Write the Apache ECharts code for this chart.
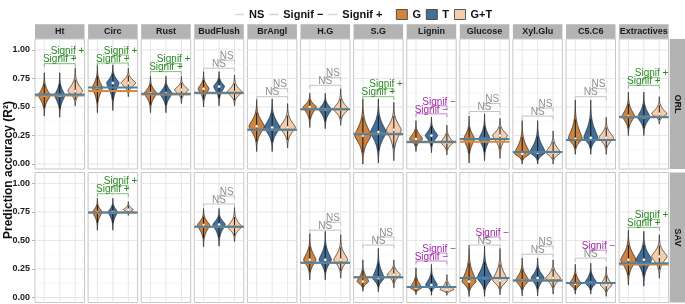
<!DOCTYPE html>
<html>
<head>
<meta charset="utf-8">
<script src="https://cdn.jsdelivr.net/npm/echarts@6/dist/echarts.min.js"></script>
<style>
  html, body { margin: 0; padding: 0; background: #fff; }
  #chart { width: 685px; height: 304px; }
</style>
</head>
<body>
<div id="chart"></div>
<script>
const traits = ['Ht', 'Circ', 'Rust', 'BudFlush', 'BrAngl', 'H.G', 'S.G', 'Lignin', 'Glucose', 'Xyl.Glu', 'C5.C6', 'Extractives'];
const sites = ['ORL', 'SAV'];
const models = ['G', 'T', 'G+T'];
const sigTypes = ['NS', 'Signif \u2212', 'Signif +'];

// each violin: [low tail, peak, high tail, width]  (G, T, G+T)
const orlViolins = [
  [[0.42, 0.60, 0.80, 0.75], [0.41, 0.60, 0.80, 0.65], [0.51, 0.64, 0.84, 0.95]],
  [[0.45, 0.67, 0.87, 0.65], [0.47, 0.71, 0.87, 0.8], [0.59, 0.71, 0.84, 0.95]],
  [[0.45, 0.62, 0.77, 0.8], [0.45, 0.62, 0.77, 0.8], [0.53, 0.65, 0.77, 0.9]],
  [[0.50, 0.66, 0.81, 0.7], [0.51, 0.68, 0.81, 0.7], [0.51, 0.63, 0.78, 0.95]],
  [[0.11, 0.33, 0.57, 1.0], [0.11, 0.32, 0.57, 1.0], [0.14, 0.32, 0.53, 1.0]],
  [[0.32, 0.50, 0.62, 0.85], [0.31, 0.48, 0.62, 0.8], [0.34, 0.48, 0.66, 0.95]],
  [[0.00, 0.25, 0.57, 1.05], [0.01, 0.28, 0.57, 1.0], [0.03, 0.30, 0.54, 0.95]],
  [[0.11, 0.22, 0.38, 0.85], [0.10, 0.25, 0.41, 0.8], [0.08, 0.19, 0.34, 0.8]],
  [[0.01, 0.22, 0.42, 0.7], [0.03, 0.22, 0.44, 0.7], [0.05, 0.25, 0.40, 0.95]],
  [[0.00, 0.09, 0.38, 1.0], [0.00, 0.10, 0.38, 1.0], [0.00, 0.10, 0.29, 0.95]],
  [[0.085, 0.22, 0.56, 0.9], [0.085, 0.23, 0.56, 0.9], [0.085, 0.23, 0.41, 0.95]],
  [[0.25, 0.42, 0.63, 0.8], [0.25, 0.41, 0.63, 0.8], [0.35, 0.44, 0.59, 1.0]]
];
const savViolins = [
  null,
  [[0.59, 0.75, 0.87, 0.6], [0.59, 0.75, 0.87, 0.6], [0.72, 0.77, 0.84, 0.65]],
  null,
  [[0.445, 0.635, 0.78, 0.8], [0.45, 0.64, 0.78, 0.8], [0.49, 0.62, 0.79, 0.9]],
  null,
  [[0.155, 0.33, 0.56, 0.8], [0.155, 0.33, 0.58, 0.8], [0.17, 0.33, 0.55, 0.9]],
  [[0.055, 0.14, 0.33, 0.75], [0.05, 0.17, 0.43, 0.75], [0.085, 0.20, 0.33, 0.85]],
  [[0.026, 0.085, 0.26, 0.75], [0.02, 0.11, 0.29, 0.75], [0.02, 0.07, 0.20, 0.9]],
  [[0.01, 0.14, 0.46, 0.9], [0.01, 0.17, 0.45, 0.95], [0.025, 0.15, 0.43, 0.95]],
  [[0.015, 0.15, 0.345, 0.85], [0.015, 0.17, 0.345, 0.85], [0.03, 0.17, 0.33, 0.95]],
  [[0.03, 0.12, 0.29, 0.75], [0.03, 0.13, 0.30, 0.75], [0.01, 0.11, 0.27, 0.75]],
  [[0.11, 0.33, 0.59, 1.0], [0.10, 0.33, 0.58, 1.0], [0.17, 0.36, 0.55, 1.0]]
];

// mean accuracy lines [G, T]
const orlMeans = [[0.60, 0.61], [0.64, 0.67], [0.61, 0.615], [0.62, 0.625], [0.30, 0.30], [0.48, 0.48],
  [0.265, 0.26], [0.19, 0.195], [0.195, 0.22], [0.105, 0.105], [0.21, 0.21], [0.415, 0.41]];
const savMeans = [null, [0.745, 0.745], null, [0.62, 0.62], null, [0.305, 0.305],
  [0.177, 0.177], [0.093, 0.093], [0.17, 0.17], [0.15, 0.15], [0.128, 0.128], [0.29, 0.30]];

// brackets: [height of G vs G+T, type G vs G+T, type T vs G+T]
const orlBrackets = [[0.88, 2, 2], [0.885, 2, 2], [0.81, 2, 2], [0.84, 0, 0], [0.59, 0, 0], [0.69, 0, 0],
  [0.59, 2, 2], [0.44, 1, 1], [0.46, 0, 0], [0.42, 0, 0], [0.59, 0, 0], [0.69, 2, 2]];
const savBrackets = [null, [0.91, 2, 2], null, [0.82, 0, 0], null, [0.59, 0, 0],
  [0.46, 0, 0], [0.32, 1, 1], [0.46, 0, 1], [0.38, 0, 0], [0.345, 0, 1], [0.615, 2, 2]];

const yTicks = [0, 0.25, 0.5, 0.75, 1];
const yMinor = [0.125, 0.375, 0.625, 0.875];

const fills = ['#CF833D', '#43709A', '#F6CDAA'];
const meanColors = ['#D4893F', '#52809F'];
const sigText = ['#8f8f8f', '#a128a8', '#2a8a22'];
const sigLine = ['#b5b5b5', '#b867c0', '#6aab62'];
const legendLine = ['#d9d9d9', '#e2c6e6', '#c9e2c7'];

const PW = 49.5, PH = 130, STEP = 53.1;
const rowTop = [39, 172.5];
const colLeft = c => 35 + c * STEP;
const Y_MIN = -0.044, Y_MAX = 1.096;

const chart = echarts.init(document.getElementById('chart'), null, { renderer: 'canvas' });

const grids = [], xAxes = [], yAxes = [], series = [], graphics = [];

function hLine(params, api) {
  const cs = params.coordSys;
  const y = api.coord([1, api.value(0)])[1];
  const major = api.value(1) === 1;
  return {
    type: 'line',
    shape: { x1: cs.x, y1: y, x2: cs.x + cs.width, y2: y },
    style: { stroke: major ? '#e3e3e3' : '#f1f1f1', lineWidth: major ? 0.9 : 0.6 }
  };
}
function vLine(params, api) {
  const cs = params.coordSys;
  const x = api.coord([api.value(0), 0])[0];
  return {
    type: 'line',
    shape: { x1: x, y1: cs.y, x2: x, y2: cs.y + cs.height },
    style: { stroke: '#e3e3e3', lineWidth: 0.9 }
  };
}
function violin(params, api) {
  const x = api.value(0), lo = api.value(1), pk = api.value(2), hi = api.value(3), w = api.value(4), m = api.value(5);
  const n = 60, left = [], right = [];
  for (let i = 0; i <= n; i++) {
    const v = lo + (hi - lo) * i / n;
    const s = v < pk ? (pk - lo) / 2.8 : (hi - pk) / 3.0;
    const hw = (w / 2) * Math.exp(-Math.pow(Math.abs(v - pk) / s, 1.5));
    right.push(api.coord([x + hw, v]));
    left.unshift(api.coord([x - hw, v]));
  }
  const pts = right.concat(left);
  const a = api.coord([x, pk - (pk - lo) * 0.6]);
  const b = api.coord([x, pk + (hi - pk) * 0.5]);
  const c = api.coord([x, pk]);
  return {
    type: 'group',
    children: [
      { type: 'polygon', shape: { points: pts }, style: { fill: fills[m], stroke: '#1e1e1e', lineWidth: 0.7 } },
      { type: 'line', shape: { x1: a[0], y1: a[1], x2: b[0], y2: b[1] }, style: { stroke: '#111', lineWidth: 1 } },
      { type: 'circle', shape: { cx: c[0], cy: c[1], r: 1.5 }, style: { fill: '#fff', stroke: '#555', lineWidth: 0.3 } }
    ]
  };
}
function meanLine(params, api) {
  const cs = params.coordSys;
  const y = api.coord([1, api.value(0)])[1];
  return {
    type: 'line',
    shape: { x1: cs.x, y1: y, x2: cs.x + cs.width, y2: y },
    style: { stroke: meanColors[api.value(1)], lineWidth: 2 }
  };
}
function bracket(params, api) {
  const y = api.value(0), t1 = api.value(1), t2 = api.value(2);
  const tip = 0.03, up = y + 0.07;
  const p = (xx, yy) => api.coord([xx, yy]);
  const parts = [];
  const addB = (x1, x2, yy, t) => {
    parts.push({
      type: 'polyline',
      shape: { points: [p(x1, yy - tip), p(x1, yy), p(x2, yy), p(x2, yy - tip)] },
      style: { stroke: sigLine[t], lineWidth: 0.8, fill: null }
    });
  };
  const addT = (xc, yy, t) => {
    const q = p(xc, yy);
    parts.push({
      type: 'text',
      x: q[0], y: q[1] + 1,
      style: {
        text: sigTypes[t], fill: sigText[t], font: '10px "Liberation Sans", Arial, sans-serif',
        align: 'center', verticalAlign: 'bottom', textAlign: 'center', textVerticalAlign: 'bottom'
      }
    });
  };
  addB(1, 3, y, t1);
  addB(2, 3, up, t2);
  addT(2, y, t1);
  addT(2.5, up, t2);
  return { type: 'group', children: parts };
}

sites.forEach((site, r) => {
  const violins = r === 0 ? orlViolins : savViolins;
  const means = r === 0 ? orlMeans : savMeans;
  const brackets = r === 0 ? orlBrackets : savBrackets;
  traits.forEach((trait, c) => {
    const gi = grids.length;
    grids.push({
      left: colLeft(c), top: rowTop[r], width: PW, height: PH,
      show: true, backgroundColor: '#fff', borderColor: '#c6c6c6', borderWidth: 1
    });
    xAxes.push({ gridIndex: gi, type: 'value', min: 0.4, max: 3.6, show: false });
    yAxes.push({
      gridIndex: gi, type: 'value', min: Y_MIN, max: Y_MAX,
      axisLine: { show: false },
      splitLine: { show: false },
      axisTick: { show: c === 0, customValues: yTicks, length: 3, lineStyle: { color: '#b3b3b3' } },
      axisLabel: {
        show: c === 0, customValues: yTicks, margin: 5,
        formatter: v => v.toFixed(2),
        color: '#1a1a1a', fontWeight: 'bold', fontSize: 9, fontFamily: '"Liberation Sans", Arial, sans-serif'
      }
    });
    const ax = { xAxisIndex: gi, yAxisIndex: gi };
    series.push(Object.assign({
      type: 'custom', silent: true, z: 1, renderItem: hLine,
      data: yTicks.map(v => [v, 1]).concat(yMinor.map(v => [v, 0]))
    }, ax));
    series.push(Object.assign({
      type: 'custom', silent: true, z: 1, renderItem: vLine, data: [[1], [2], [3]]
    }, ax));
    if (violins[c]) {
      series.push(Object.assign({
        type: 'custom', silent: true, z: 2, renderItem: violin, clip: true,
        data: violins[c].map((d, m) => [m + 1, d[0], d[1], d[2], d[3], m])
      }, ax));
      series.push(Object.assign({
        type: 'custom', silent: true, z: 3, renderItem: meanLine,
        data: [[means[c][0], 0], [means[c][1], 1]]
      }, ax));
      series.push(Object.assign({
        type: 'custom', silent: true, z: 4, renderItem: bracket, clip: false,
        data: [brackets[c]]
      }, ax));
    }
    if (r === 0) {
      graphics.push({
        type: 'rect', shape: { x: colLeft(c), y: 24.3, width: PW, height: 14.5 },
        style: { fill: '#b3b3b3' }, silent: true
      });
      graphics.push({
        type: 'text', x: colLeft(c) + PW / 2, y: 31.8, silent: true,
        style: {
          text: trait, fill: '#1a1a1a', font: 'bold 9px "Liberation Sans", Arial, sans-serif',
          align: 'center', verticalAlign: 'middle', textAlign: 'center', textVerticalAlign: 'middle'
        }
      });
    }
  });
  graphics.push({
    type: 'rect', shape: { x: 669.8, y: rowTop[r], width: 15.2, height: PH },
    style: { fill: '#b3b3b3' }, silent: true
  });
  graphics.push({
    type: 'text', x: 677.4, y: rowTop[r] + PH / 2, rotation: -Math.PI / 2, silent: true,
    style: {
      text: site, fill: '#1a1a1a', font: 'bold 9px "Liberation Sans", Arial, sans-serif',
      align: 'center', verticalAlign: 'middle', textAlign: 'center', textVerticalAlign: 'middle'
    }
  });
});

graphics.push({
  type: 'text', x: 9, y: 170, rotation: Math.PI / 2, silent: true,
  style: {
    text: 'Prediction accuracy (R\u00b2)', fill: '#111', font: 'bold 12px "Liberation Sans", Arial, sans-serif',
    align: 'center', verticalAlign: 'middle', textAlign: 'center', textVerticalAlign: 'middle'
  }
});

// dummy series so the legends have entries
sigTypes.forEach((name, i) => {
  series.push({ name, type: 'line', data: [], xAxisIndex: 0, yAxisIndex: 0, itemStyle: { color: legendLine[i] }, lineStyle: { color: legendLine[i] } });
});
models.forEach((name, i) => {
  series.push({ name, type: 'bar', data: [], xAxisIndex: 0, yAxisIndex: 0, itemStyle: { color: fills[i] } });
});

const legendText = { color: '#111', fontWeight: 'bold', fontSize: 11, fontFamily: '"Liberation Sans", Arial, sans-serif' };

const option = {
  animation: false,
  backgroundColor: '#fff',
  grid: grids,
  xAxis: xAxes,
  yAxis: yAxes,
  series,
  graphic: graphics,
  legend: [
    {
      left: 230, top: 4, itemWidth: 9, itemHeight: 1.5, itemGap: 5, selectedMode: false,
      icon: 'rect', textStyle: legendText,
      data: sigTypes.map((name, i) => ({ name, itemStyle: { color: legendLine[i] } }))
    },
    {
      left: 391, top: 4, itemWidth: 11, itemHeight: 10, itemGap: 5, selectedMode: false,
      icon: 'rect', textStyle: legendText,
      data: models.map((name, i) => ({ name, itemStyle: { color: fills[i], borderColor: '#333', borderWidth: 0.8 } }))
    }
  ]
};

chart.setOption(option);
</script>
</body>
</html>
